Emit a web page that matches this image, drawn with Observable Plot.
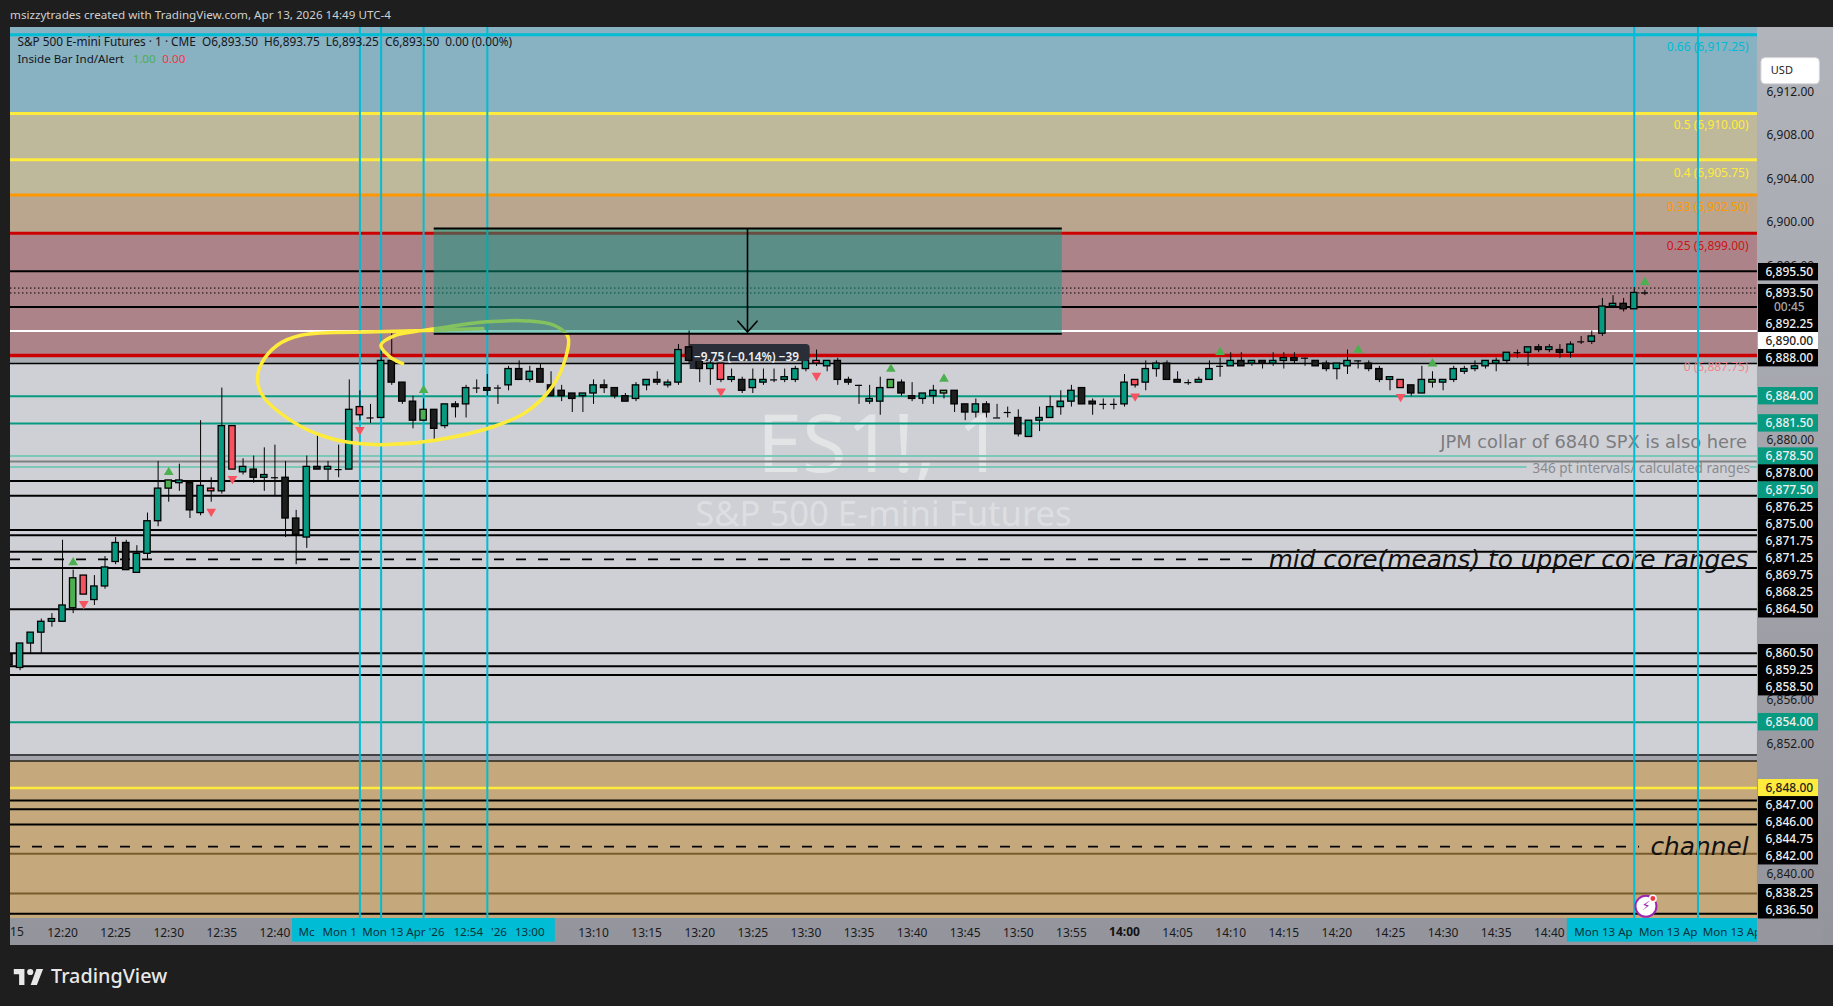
<!DOCTYPE html>
<html><head><meta charset="utf-8">
<script src="https://cdn.jsdelivr.net/npm/d3@7"></script>
<script src="https://cdn.jsdelivr.net/npm/@observablehq/plot@0.6"></script>
<style>
html,body{margin:0;padding:0;background:#1e1e1e;overflow:hidden}
#title{height:27px;font:11.65px "Noto Sans",sans-serif;line-height:30px;padding-left:10px;color:#cfcfcf;box-sizing:border-box;white-space:nowrap}
#chart svg{display:block}
#footer{height:61px;display:flex;align-items:center;padding-left:12px;color:#e8e8e8;font:500 19.8px "Noto Sans",sans-serif;gap:7px}
</style></head><body>
<div id="title">msizzytrades created with TradingView.com, Apr 13, 2026 14:49 UTC-4</div>
<div id="chart"></div>
<div id="footer"><svg width="32" height="20" viewBox="0 4 36 20"><path fill="#e8e8e8" d="M14 6H2v6h6v12h6V6zm14 18h-7l6.5-18H35l-7 18zM20.5 6a3.5 3.5 0 1 1 0 7 3.5 3.5 0 0 1 0-7z"/></svg><span>TradingView</span></div>
<script>
const FONT = '"Noto Sans",sans-serif';
const NOTE_FONT = '"DejaVu Sans",sans-serif';
// minute offset from 12:20 of the first bar
const firstMinute = -5;
const opens  = [6860.25,6859,6861.25,6862.25,6863.25,6863.25,6864.5,6867.5,6865.25,6866.5,6868.75,6870.5,6867.75,6869.5,6872.5,6875.5,6876,6876,6873.25,6875.5,6875.25,6881.25,6877,6877.25,6876.5,6876.5,6876.5,6872.75,6871,6877.5,6877.25,6877.25,6877.25,6883,6882,6882,6887.25,6885.25,6883.5,6881.75,6882.75,6881.25,6883.25,6883.25,6884.75,6884.75,6884.75,6885,6886.5,6885.5,6886.5,6885,6884.5,6884.25,6884,6884.25,6885,6884.75,
6884,6883.75,6885,6885.5,6885,6885.25,6888.5,6887.25,6886.5,6887,6885.5,6885.5,6884.75,6885.25,6885.5,6885.5,6885.5,6886.5,6887.25,6886.75,6887.25,6885.5,6885,6883.5,6883.5,6884.75,6885.25,6884,6883.75,6884,6884.25,6884.5,6883.25,6882.5,6883.25,6882,6882.5,6882,6880.25,6881.75,6882,6883,6883.5,6884.75,6883.5,6883.25,6883.25,6883.25,6885.5,6885.25,6886.5,6887,6885.5,6885.25,6885.25,6885.5,
6886.75,6886.75,6887.25,6887,6887.25,6887,6887.25,6887.5,6887.5,6887.25,6887,6886.5,6886.75,6887.25,6887,6886.5,6885.5,6885.5,6885,6884.25,6885.25,6885.25,6885.5,6886.25,6886.5,6886.75,6887,6887.25,6888,6888,6888.5,6888.25,6888.25,6888,6889,6889,6889.75,6892.25,6892.5,6892,6893.5];
const closes = [6859.25,6861.25,6862.25,6863.25,6863.5,6864.75,6867.25,6865.75,6866.5,6868.25,6870.5,6868,6869.5,6872.5,6875.5,6876.25,6876.25,6873.5,6875.75,6875.25,6881.25,6877.25,6877.5,6876.5,6876.75,6876.5,6872.75,6871.25,6877.5,6877.25,6877.5,6877.25,6882.75,6882.25,6882,6887.25,6885.25,6883.5,6881.75,6882.75,6881,6883.25,6883,6884.75,6884.75,6884.5,6884.75,6886.5,6885.5,6886.25,6885.25,6884,6884,6883.75,6884.25,6885,6884.75,6884,
6883.5,6885,6885.5,6885.25,6885.25,6888.25,6887.25,6886.5,6887,6885.5,6885.75,6884.5,6885.5,6885.5,6885.5,6885.75,6886.5,6887.25,6887,6887.25,6885.5,6885.25,6885,6883.75,6884.75,6885.5,6884.25,6883.75,6884.25,6884.5,6884.5,6883.25,6882.5,6883.25,6882.5,6882,6882.5,6880.5,6881.75,6882,6883,6883.5,6884.5,6883.25,6883.25,6883.25,6883.25,6885.25,6885,6886.5,6887,6885.5,6885.25,6885.25,6885.5,6886.5,
6886.75,6887.25,6886.75,6887.25,6887,6887.25,6887.5,6887.25,6887.5,6886.75,6886.5,6887,6887.25,6887.25,6886.5,6885.5,6885.75,6884.75,6884.25,6885.5,6885.5,6885.5,6886.5,6886.5,6886.75,6887.25,6887.25,6888,6888,6888.5,6888.25,6888.5,6888,6888.75,6889,6889.5,6892.25,6892.5,6892,6893.5,6893.5];
const highs  = [6860.25,6861.25,6862.25,6863.5,6864,6870.75,6868,6867.5,6867.5,6869.25,6871,6870.75,6870.25,6873.25,6878,6876.25,6877.75,6876,6881.75,6876.5,6884.75,6881.25,6878.25,6878.5,6879.25,6879.5,6878,6873.5,6878.5,6880.5,6878,6879.5,6885.5,6884.5,6883.25,6888.25,6890,6885.25,6884,6883.75,6882.75,6883.25,6883.5,6885,6885.5,6886,6885,6886.75,6887.25,6886.75,6887,6886.25,6885,6884.25,6884.25,6885.5,6885.5,6884.75,
6884.25,6885.25,6885.5,6886.25,6885.5,6888.75,6890,6888.5,6887.75,6887,6886.5,6885.75,6886.5,6886.5,6886.5,6886.5,6886.75,6888.75,6888.25,6887.25,6887.5,6885.75,6885,6885,6885.75,6885.5,6885.5,6885.25,6884.25,6885,6884.5,6884.5,6883.25,6883.75,6883.5,6883.25,6883,6882.75,6881.75,6883,6884,6884.5,6885,6884.75,6883.75,6883.75,6883.75,6886,6885.5,6887.25,6887.25,6887.25,6886.25,6885.5,6885.75,6887.25,
6887.5,6888,6888,6887.25,6887.25,6888,6888,6888,6887.5,6887.25,6887.25,6887,6888.25,6887.25,6887.25,6886.75,6885.75,6885.5,6885,6886.75,6886.25,6885.5,6886.75,6886.75,6887.25,6887.25,6887.5,6888,6888.25,6888.5,6888.75,6888.75,6888.75,6889,6889.5,6890,6893,6893.25,6893,6894,6893.75];
const lows   = [6859.25,6858.75,6860.25,6860.25,6862.75,6863.25,6864,6865.75,6864.75,6866.25,6868.5,6868,6867.75,6869,6872,6874.25,6875.25,6872.75,6873,6874.25,6875,6877.25,6876.75,6876,6875.25,6874.75,6871,6868.5,6870,6877.25,6876.25,6876.5,6877.25,6881.75,6881.5,6882,6885,6883.25,6881,6881.75,6879.75,6881,6882,6882,6884.25,6884,6883.25,6884.5,6885.5,6885.25,6885.25,6884,6883.5,6882.5,6882.5,6883.25,6884.25,6883.75,
6883.5,6883.5,6884.5,6885,6884.75,6885,6887,6885.25,6885,6885.25,6885.25,6884.25,6884.25,6885,6885.25,6885.25,6885.25,6886.25,6886.75,6886.25,6885,6885,6883.25,6883.25,6882.25,6884.75,6884,6883.5,6883.25,6883.25,6883.75,6882.5,6881.75,6882,6882,6882,6882,6880.25,6880.25,6880.75,6882,6882.25,6883,6883.25,6882.25,6882.75,6882.75,6883,6884.75,6884.5,6885.75,6885.5,6885.25,6885,6885.25,6885.5,
6885.75,6886.75,6886.75,6886.75,6886.5,6886.75,6886.5,6887,6886.75,6886.75,6886.25,6885.5,6886,6886.5,6886.25,6885.25,6884.5,6884.75,6884,6884.25,6884.75,6884.5,6885.25,6886,6886.25,6886.5,6886.25,6887,6887.5,6886.75,6888,6888,6887.5,6887.5,6888.75,6888.75,6889.5,6892.25,6891.75,6892,6893.25];
// bars drawn in the indicator's red and green highlight colours (minute offsets)
const redBars = [2,14,16,28,62,71,101,126];
const greenBars = [1,10,34,78,83,129];
// indicator triangles: [minute, price]
const upMarks = [[1,6868.7],[10,6877],[34,6884.55],[78,6886.5],[83,6885.6],[109,6888.05],[122,6888.25],[129,6887],[149,6894.5]];
const downMarks = [[2,6864.9],[14,6873.4],[16,6876.4],[28,6880.9],[62,6884.45],[71,6885.9],[101,6884],[126,6883.95]];

const paneLeft = -4.9, paneRight = 159.6, paneBottom = 6835.95, paneTop = 6917.92;
const boxLeft = 159.7, boxRight = 165.35, boxCenter = 162.6;

// shaded price zones: [low, high, colour]
const zones = [
  [6887,6917.92,"#a9acb2"],
  [6910,6917.92,"#88b1c1"],[6902.5,6910,"#bfb99c"],[6899,6902.5,"#baa68e"],[6887.75,6899,"#ad838a"],
  [6851,6887,"#ced0d5"],[6850.45,6851,"#a2a3ab"],[6835.95,6850.45,"#c5a87c"]
];
// horizontal levels: [price, colour, width]
const levels = [
 [6917.25,"#00bcd4",3],[6910,"#ffeb3b",3],[6905.75,"#ffeb3b",3],[6902.5,"#ff9800",3],[6899,"#cc0000",3],
 [6895.5,"#000",2],[6892.2,"#000",2],[6890,"#fff",2],[6887.75,"#cc0000",3.5],[6887,"#000",1.5],
 [6884,"#089981",2],[6881.5,"#089981",2],[6878.5,"#7cc8b8",2],[6878,"#808080",2],
 [6876.2,"#000",2],[6874.85,"#000",2],[6871.7,"#000",2],[6871.2,"#000",2],[6869.7,"#000",2],[6868.2,"#000",2],[6864.4,"#000",2],
 [6860.35,"#000",2],[6859.15,"#000",2],[6858.35,"#000",2],[6854,"#089981",2],[6851,"#222",1.5],[6850.45,"#222",1.5],
 [6847.95,"#ffeb3b",2.5],[6846.8,"#000",2],[6846,"#000",2],[6844.6,"#000",2],[6841.9,"#7a5c2c",2],[6838.25,"#7a5c2c",2],[6836.4,"#000",2]
];
const verticals = [28,30,34,40,148,154];
// right axis tags: [label, placed at price, kind]
const tags = [
 ["6,895.50",6895.41,"k"],["6,893.50",6893.48,"k"],["00:45",6892.19,"t"],["6,892.25",6890.66,"k"],["6,890.00",6889.06,"w"],["6,888.00",6887.5,"k"],
 ["6,884.00",6884,"g"],["6,881.50",6881.5,"g"],["6,878.50",6878.45,"g"],["6,878.00",6876.89,"k"],["6,877.50",6875.32,"g"],
 ["6,876.25",6873.79,"k"],["6,875.00",6872.22,"k"],["6,871.75",6870.66,"k"],["6,871.25",6869.1,"k"],["6,869.75",6867.53,"k"],["6,868.25",6865.97,"k"],["6,864.50",6864.4,"k"],
 ["6,860.50",6860.36,"k"],["6,859.25",6858.79,"k"],["6,858.50",6857.23,"k"],["6,854.00",6854.01,"g"],
 ["6,848.00",6847.94,"y"],["6,847.00",6846.37,"k"],["6,846.00",6844.81,"k"],["6,844.75",6843.25,"k"],["6,842.00",6841.68,"k"],["6,838.25",6838.28,"k"],["6,836.50",6836.71,"k"]
];
const axisTicks = [6912,6908,6904,6900,6896,6880,6856,6852,6840];
const tagFill = {k:"#000",t:"#000",w:"#fff",g:"#089981",y:"#ffeb3b"};
const tagText = {k:"#f0f0f0",t:"#a8a8a8",w:"#222",g:"#f0f0f0",y:"#222"};
// fib labels: [text, placed at price, colour]
const fibLabels = [
 ["0.66 (6,917.25)",6916.1,"#00bcd4"],["0.5 (6,910.00)",6908.9,"#ffeb3b"],["0.4 (6,905.75)",6904.5,"#ffeb3b"],
 ["0.33 (6,902.50)",6901.4,"#ff9800"],["0.25 (6,899.00)",6897.77,"#cc1414"],["0 (6,887.75)",6886.67,"#f0858c"]
];
const timeMinutes = [0,5,10,15,20,50,55,60,65,70,75,80,85,90,95,105,110,115,120,125,130,135,140];
const fmtTime = m => { const t = 12*60+20+m; return String(Math.floor(t/60)).padStart(2,"0")+":"+String(t%60).padStart(2,"0"); };
const cyanBands = [[21.66,46.4],[141.7,paneRight]];
const cyanLabels = [[22.97,"Mc"],[26.1,"Mon 1"],[32.1,"Mon 13 Apr '26"],[38.2,"12:54"],[41.1,"'26"],[44.0,"13:00"],[145.1,"Mon 13 Ap"],[151.2,"Mon 13 Ap"],[157.2,"Mon 13 Ap"]];
// hand-drawn circle
const scribble = [[39.58,6890.23],[35.12,6890.07],[29.53,6889.92],[22.46,6889.61],[20.22,6888.69],[18.73,6887],[18.36,6885.47],[18.92,6883.94],[21.71,6881.64],[24.32,6880.41],[27.29,6879.71],[30.65,6879.55],[35.12,6879.95],[40.7,6881.24],[43.68,6882.56],[46.1,6884.86],[47.4,6887.62],[47.59,6889.46],[46.28,6890.53],[43.68,6890.93],[39.95,6890.84],[36.23,6890.38],[33.62,6890.01],[31.39,6889.61],[29.98,6888.69],[30.83,6887.62],[32.02,6887]];

const bars = opens.map((o,i)=>{const m=firstMinute+i;return {m,o,c:closes[i],h:highs[i],l:lows[i]};});
const bodyColor = d => redBars.includes(d.m) ? "#f7525f" : greenBars.includes(d.m) ? "#4caf50" : d.c>=d.o ? "#089981" : "#1e1e1e";
const isDoji = d => d.o===d.c;
const front = d => d.m===59;
const candleMarks = data => [
  Plot.ruleX(data,{x:"m",y1:"l",y2:"h",stroke:"#000",strokeWidth:1}),
  Plot.rect(data.filter(d=>!isDoji(d)),{x1:d=>d.m-0.3,x2:d=>d.m+0.3,y1:"o",y2:"c",fill:bodyColor,stroke:"#000",strokeWidth:1.3}),
  Plot.ruleY(data.filter(isDoji),{y:"o",x1:d=>d.m-0.33,x2:d=>d.m+0.33,stroke:"#000",strokeWidth:1.2})
];

const chart = Plot.plot({
  width:1833,height:918,
  marginLeft:10,marginRight:10,marginTop:0,marginBottom:0,
  style:{background:"linear-gradient(180deg,#b2b4bc,#93949c)",fontFamily:FONT,fontSize:"12px"},
  x:{domain:[-4.9,165.82],axis:null},
  y:{domain:[6833.47,6917.92],axis:null},
  marks:[
    Plot.rect(zones,{x1:paneLeft,x2:paneRight,y1:d=>d[0],y2:d=>d[1],fill:d=>d[2]}),
    // watermark
    Plot.text(["ES1!, 1"],{x:77,y:6879.37,text:d=>d,fontSize:81,fill:"#fff",fillOpacity:.42,fontFamily:FONT}),
    Plot.text(["S&P 500 E-mini Futures"],{x:77.3,y:6873.07,text:d=>d,fontSize:34.6,fill:"#fff",fillOpacity:.32,fontFamily:FONT}),
    // levels
    Plot.ruleY(levels,{y:d=>d[0],x1:paneLeft,x2:paneRight,stroke:d=>d[1],strokeWidth:d=>d[2]}),
    Plot.ruleY([6877.5],{y:d=>d,x1:paneLeft,x2:137.9,stroke:"#7cc8b8",strokeWidth:2}),
    Plot.ruleY([6877.5],{y:d=>d,x1:158.9,x2:paneRight,stroke:"#7cc8b8",strokeWidth:2}),
    Plot.ruleY([6869],{y:d=>d,x1:paneLeft,x2:112.5,stroke:"#000",strokeWidth:1.8,strokeDasharray:"10,12"}),
    Plot.ruleY([6842.57],{y:d=>d,x1:paneLeft,x2:148.5,stroke:"#000",strokeWidth:1.8,strokeDasharray:"10,12"}),
    Plot.ruleY([6893.95,6893.5],{y:d=>d,x1:paneLeft,x2:paneRight,stroke:"#000",strokeWidth:1,strokeDasharray:"1.5,2.5"}),
    // text notes
    Plot.text(["JPM collar of 6840 SPX is also here"],{x:158.6,y:6879.75,text:d=>d,textAnchor:"end",fontSize:17.8,fill:"#7c7c80",fontFamily:NOTE_FONT}),
    Plot.text(["346 pt intervals/ calculated ranges"],{x:158.9,y:6877.33,text:d=>d,textAnchor:"end",fontSize:13.5,fill:"#8a8a8e",fontFamily:FONT}),
    Plot.text(["mid core(means) to upper core ranges"],{x:158.76,y:6868.95,text:d=>d,textAnchor:"end",fontSize:24.8,fontStyle:"italic",fill:"#111",fontFamily:NOTE_FONT}),
    Plot.text(["channel"],{x:158.76,y:6842.57,text:d=>d,textAnchor:"end",fontSize:24.8,fontStyle:"italic",fill:"#111",fontFamily:NOTE_FONT}),
    Plot.text(fibLabels,{x:158.76,y:d=>d[1],text:d=>d[0],textAnchor:"end",fontSize:12,fill:d=>d[2],fontFamily:FONT}),
    // x axis bands
    Plot.rect(cyanBands,{x1:d=>d[0],x2:d=>d[1],y1:paneBottom,y2:6833.78,fill:"#00bcd4"}),
    Plot.axisX(timeMinutes,{anchor:"bottom",label:null,tickSize:0,tickPadding:-17,tickFormat:fmtTime,fontSize:12,color:"#1a1a1a",fontFamily:FONT}),
    Plot.text(["14:00"],{x:100,y:6834.67,text:d=>d,fontSize:12,fontWeight:"bold",fill:"#111",fontFamily:FONT}),
    Plot.text(["15"],{x:-4.3,y:6834.67,text:d=>d,fontSize:12,fill:"#1a1a1a",fontFamily:FONT}),
    Plot.text(cyanLabels,{x:d=>d[0],y:6834.67,text:d=>d[1],fontSize:11.6,fill:"#05323c",fontFamily:FONT}),
    // right end of the time strip
    Plot.rect([0],{x1:paneRight,x2:165.82,y1:6833.47,y2:paneBottom,fill:"#95969e"}),
    // verticals
    Plot.ruleX(verticals,{x:d=>d,y1:paneBottom,y2:paneTop,stroke:"#00bcd4",strokeWidth:2}),
    // tooltip lower corner
    Plot.rect([0],{x1:59.1,x2:60.3,y1:6886.46,y2:6888.76,fill:"#2a2e39"}),
    ...candleMarks(bars.filter(d=>!front(d))),
    Plot.dot(upMarks,{x:d=>d[0],y:d=>d[1],symbol:"triangle",r:3.6,fill:"#4caf50"}),
    Plot.dot(downMarks,{x:d=>d[0],y:d=>d[1],symbol:"triangle",r:3.6,rotate:180,fill:"#f7525f"}),
    // scribble and projected target box
    Plot.line(scribble,{x:d=>d[0],y:d=>d[1],curve:"catmull-rom",stroke:"#ffeb3b",strokeWidth:3.5}),
    Plot.rect([0],{x1:35,x2:94.14,y1:6889.74,y2:6899.43,fill:"#089981",fillOpacity:.5}),
    Plot.ruleY([6899.43,6889.74],{y:d=>d,x1:35,x2:94.14,stroke:"#000",strokeWidth:1.8}),
    Plot.ruleX([64.5],{x:d=>d,y1:6889.9,y2:6899.43,stroke:"#000",strokeWidth:1.6}),
    Plot.line([[63.6,6890.9],[64.5,6889.9],[65.4,6890.9]],{x:d=>d[0],y:d=>d[1],stroke:"#000",strokeWidth:1.6}),
    // tooltip
    Plot.rect([0],{x1:59.1,x2:70.4,y1:6887.19,y2:6888.76,fill:"#2a2e39",rx:4}),
    ...candleMarks(bars.filter(front)),
    Plot.text(["\u22129.75 (\u22120.14%) \u221239"],{x:64.4,y:6887.6,text:d=>d,fontSize:11.8,fontWeight:600,fill:"#f0f0f0",fontFamily:FONT}),
    // pane left edge
    Plot.rect([0],{x1:-5.84,x2:-4.9,y1:6833.47,y2:6917.92,fill:"#1e1e1e"}),
    // legend
    Plot.text(["S&P 500 E-mini Futures \u00b7 1 \u00b7 CME\u00a0\u00a0O6,893.50\u00a0\u00a0H6,893.75\u00a0\u00a0L6,893.25\u00a0\u00a0C6,893.50\u00a0\u00a00.00 (0.00%)"],{x:-4.25,y:6916.54,text:d=>d,textAnchor:"start",fontSize:11.8,fill:"#131722",fontFamily:FONT}),
    Plot.text(["Inside Bar Ind/Alert"],{x:-4.25,y:6915,text:d=>d,textAnchor:"start",fontSize:11.6,fill:"#131722",fontFamily:FONT}),
    Plot.text(["1.00"],{x:6.6,y:6915,text:d=>d,textAnchor:"start",fontSize:11.6,fill:"#4caf50",fontFamily:FONT}),
    Plot.text(["0.00"],{x:9.4,y:6915,text:d=>d,textAnchor:"start",fontSize:11.6,fill:"#f23645",fontFamily:FONT}),
    // right axis
    Plot.axisY(axisTicks,{anchor:"right",label:null,tickSize:0,tickPadding:-57,tickFormat:d3.format(",.2f"),fontSize:12,color:"#1a1a1a",fontFamily:FONT}),
    Plot.rect(tags,{x1:boxLeft,x2:boxRight,y1:d=>d[1]-0.8,y2:d=>d[1]+0.8,fill:d=>tagFill[d[2]]}),
    Plot.text(tags,{x:boxCenter,y:d=>d[1],text:d=>d[0],fontSize:12,fontWeight:500,fill:d=>tagText[d[2]],fontFamily:FONT}),
    // currency button
    Plot.rect([0],{x1:159.98,x2:165.47,y1:6912.7,y2:6915.1,fill:"#fff",stroke:"#d8d8dc",rx:4}),
    Plot.text(["USD"],{x:161.9,y:6913.95,text:d=>d,fontSize:11,fill:"#222",fontFamily:FONT}),
    // alert icon
    Plot.dot([0],{x:149.1,y:6837.08,r:10.5,fill:"#fff",stroke:"#9c27b0",strokeWidth:2}),
    Plot.text(["\u26A1"],{x:149.1,y:6837.08,text:d=>d,fontSize:13,fill:"#9c27b0",fontFamily:"DejaVu Sans"}),
    Plot.dot([0],{x:149.75,y:6837.79,r:3.2,fill:"#f23645",stroke:"#fff"})
  ]
});
document.getElementById("chart").appendChild(chart);
</script>
</body></html>
